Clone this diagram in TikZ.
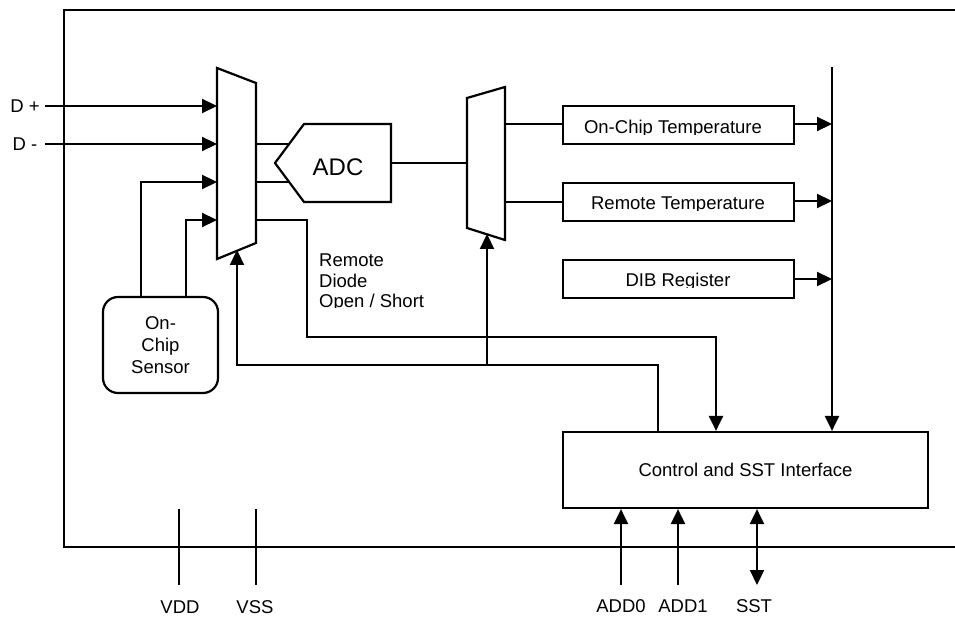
\documentclass[tikz,border=0pt]{standalone}
\usepackage{fontspec}
\setmainfont{Liberation Sans}
\usetikzlibrary{arrows.meta}
\begin{document}
\begin{tikzpicture}[x=1pt,y=-1pt,
  wire/.style={line width=2.2pt},
  arr/.style={wire,-{Triangle[length=15pt 0,width=14pt 0]}},
  darr/.style={wire,{Triangle[length=15pt 0,width=14pt 0]}-{Triangle[length=15pt 0,width=14pt 0]}},
  blk/.style={draw,line width=2.2pt,rectangle,inner sep=0pt},
  lbl/.style={inner sep=0pt,anchor=base,font=\fontsize{18.5}{21}\selectfont},
  lbll/.style={lbl,anchor=base west}]
\useasboundingbox (0,0) rectangle (955,617);
% outer chip border
\draw[line width=1.6pt] (955,10) -- (64,10) -- (64,547) -- (955,547);

% input mux
\coordinate (m1a) at (217,68);
\coordinate (m1b) at (256,83);
\coordinate (m1c) at (256,243);
\coordinate (m1d) at (217,259);
\draw[wire,line join=miter] (m1a) -- (m1b) -- (m1c) -- (m1d) -- cycle;

% output mux
\coordinate (m2a) at (467,98);
\coordinate (m2b) at (505,87);
\coordinate (m2c) at (505,240);
\coordinate (m2d) at (467,228);
\draw[wire] (m2a) -- (m2b) -- (m2c) -- (m2d) -- cycle;

% ADC
\coordinate (adcT) at (275,163);
\draw[wire] (adcT) -- (304,124) -- (391,124) -- (391,202) -- (304,202) -- cycle;
\node[inner sep=0pt,font=\fontsize{24}{26}\selectfont] (adc) at (338,167.5) {ADC};

% pins D+ D-
\node[lbl] (dp) at (25,113) {D +};
\node[lbl] (dm) at (25,151) {D -};
\coordinate (dpin) at (217,106);
\coordinate (dmin) at (217,144);
\draw[arr] (45,106) -- (dpin);
\draw[arr] (45,144) -- (dmin);

% on-chip sensor
\node[draw,line width=2.2pt,rounded corners=15pt,minimum width=115pt,minimum height=96pt,inner sep=0pt,
  align=center,font=\fontsize{18.5}{22}\selectfont] (sensor) at (160.5,345) {On-\\Chip\\Sensor};
\coordinate (s1) at (141,297);
\coordinate (s2) at (186,297);
\draw[arr] (s1) -- (141,182) -- (217,182);
\draw[arr] (s2) -- (186,220) -- (217,220);

% mux1 -> ADC
\draw[wire] (256,144) -- (289,144);
\draw[wire] (256,182) -- (289,182);
% ADC -> mux2
\draw[wire] (391,163) -- (467,163);

% registers
\node[blk,minimum width=231pt,minimum height=38pt] (reg1) at (678.5,125) {};
\node[blk,minimum width=231pt,minimum height=38pt] (reg2) at (678.5,202) {};
\node[blk,minimum width=231pt,minimum height=38pt] (reg3) at (678.5,279) {};
\begin{scope}
  \clip (565,108) rectangle (792,135);
  \node[lbl] (t1) at (673,134) {On-Chip Temperature};
\end{scope}
\begin{scope}
  \clip (565,185) rectangle (792,211);
  \node[lbl] (t2) at (678,210) {Remote Temperature};
\end{scope}
\begin{scope}
  \clip (565,262) rectangle (792,288);
  \node[lbl] (t3) at (678,287) {DIB Register};
\end{scope}
\draw[wire] (505,124) -- (reg1.west |- 0,124);
\draw[wire] (505,202) -- (reg2.west |- 0,202);

% bus
\coordinate (bustop) at (832,67);
\draw[arr] (reg1.east |- 0,124) -- (832,124);
\draw[arr] (reg2.east |- 0,201) -- (832,201);
\draw[arr] (reg3.east |- 0,279) -- (832,279);

% control
\node[blk,minimum width=365pt,minimum height=76pt,font=\fontsize{18.5}{21}\selectfont] (ctrl) at (745.5,470) {Control and SST Interface};
\draw[arr] (bustop) -- (ctrl.north -| 832,0);

% open/short
\draw[arr] (256,220) -- (307,220) -- (307,337) -- (716,337) -- (ctrl.north -| 716,0);
\node[lbll] (rd1) at (319,267) {Remote};
\node[lbll] (rd2) at (319,287.5) {Diode};
\begin{scope}
  \clip (300,290) rectangle (460,308);
  \node[lbll] (rd3) at (319,308) {Open / Short};
\end{scope}

% control feedback to muxes
\coordinate (fb) at (658,365);
\draw[arr] (ctrl.north -| 658,0) -- (fb) -- (237,365) -- (237,250);
\draw[arr] (487,365) -- (487,234);

% bottom pins
\draw[wire] (179,509) -- (179,585);
\draw[wire] (256,509) -- (256,585);
\node[lbl] (vdd) at (180,613) {VDD};
\node[lbl] (vss) at (255,613) {VSS};
\draw[arr] (621,585) -- (ctrl.south -| 621,0);
\draw[arr] (678,585) -- (ctrl.south -| 678,0);
\draw[darr] (757,585) -- (ctrl.south -| 757,0);
\node[lbl] (a0) at (621,612) {ADD0};
\node[lbl] (a1) at (683,612) {ADD1};
\node[lbl] (sst) at (754,612) {SST};
\end{tikzpicture}
\end{document}
